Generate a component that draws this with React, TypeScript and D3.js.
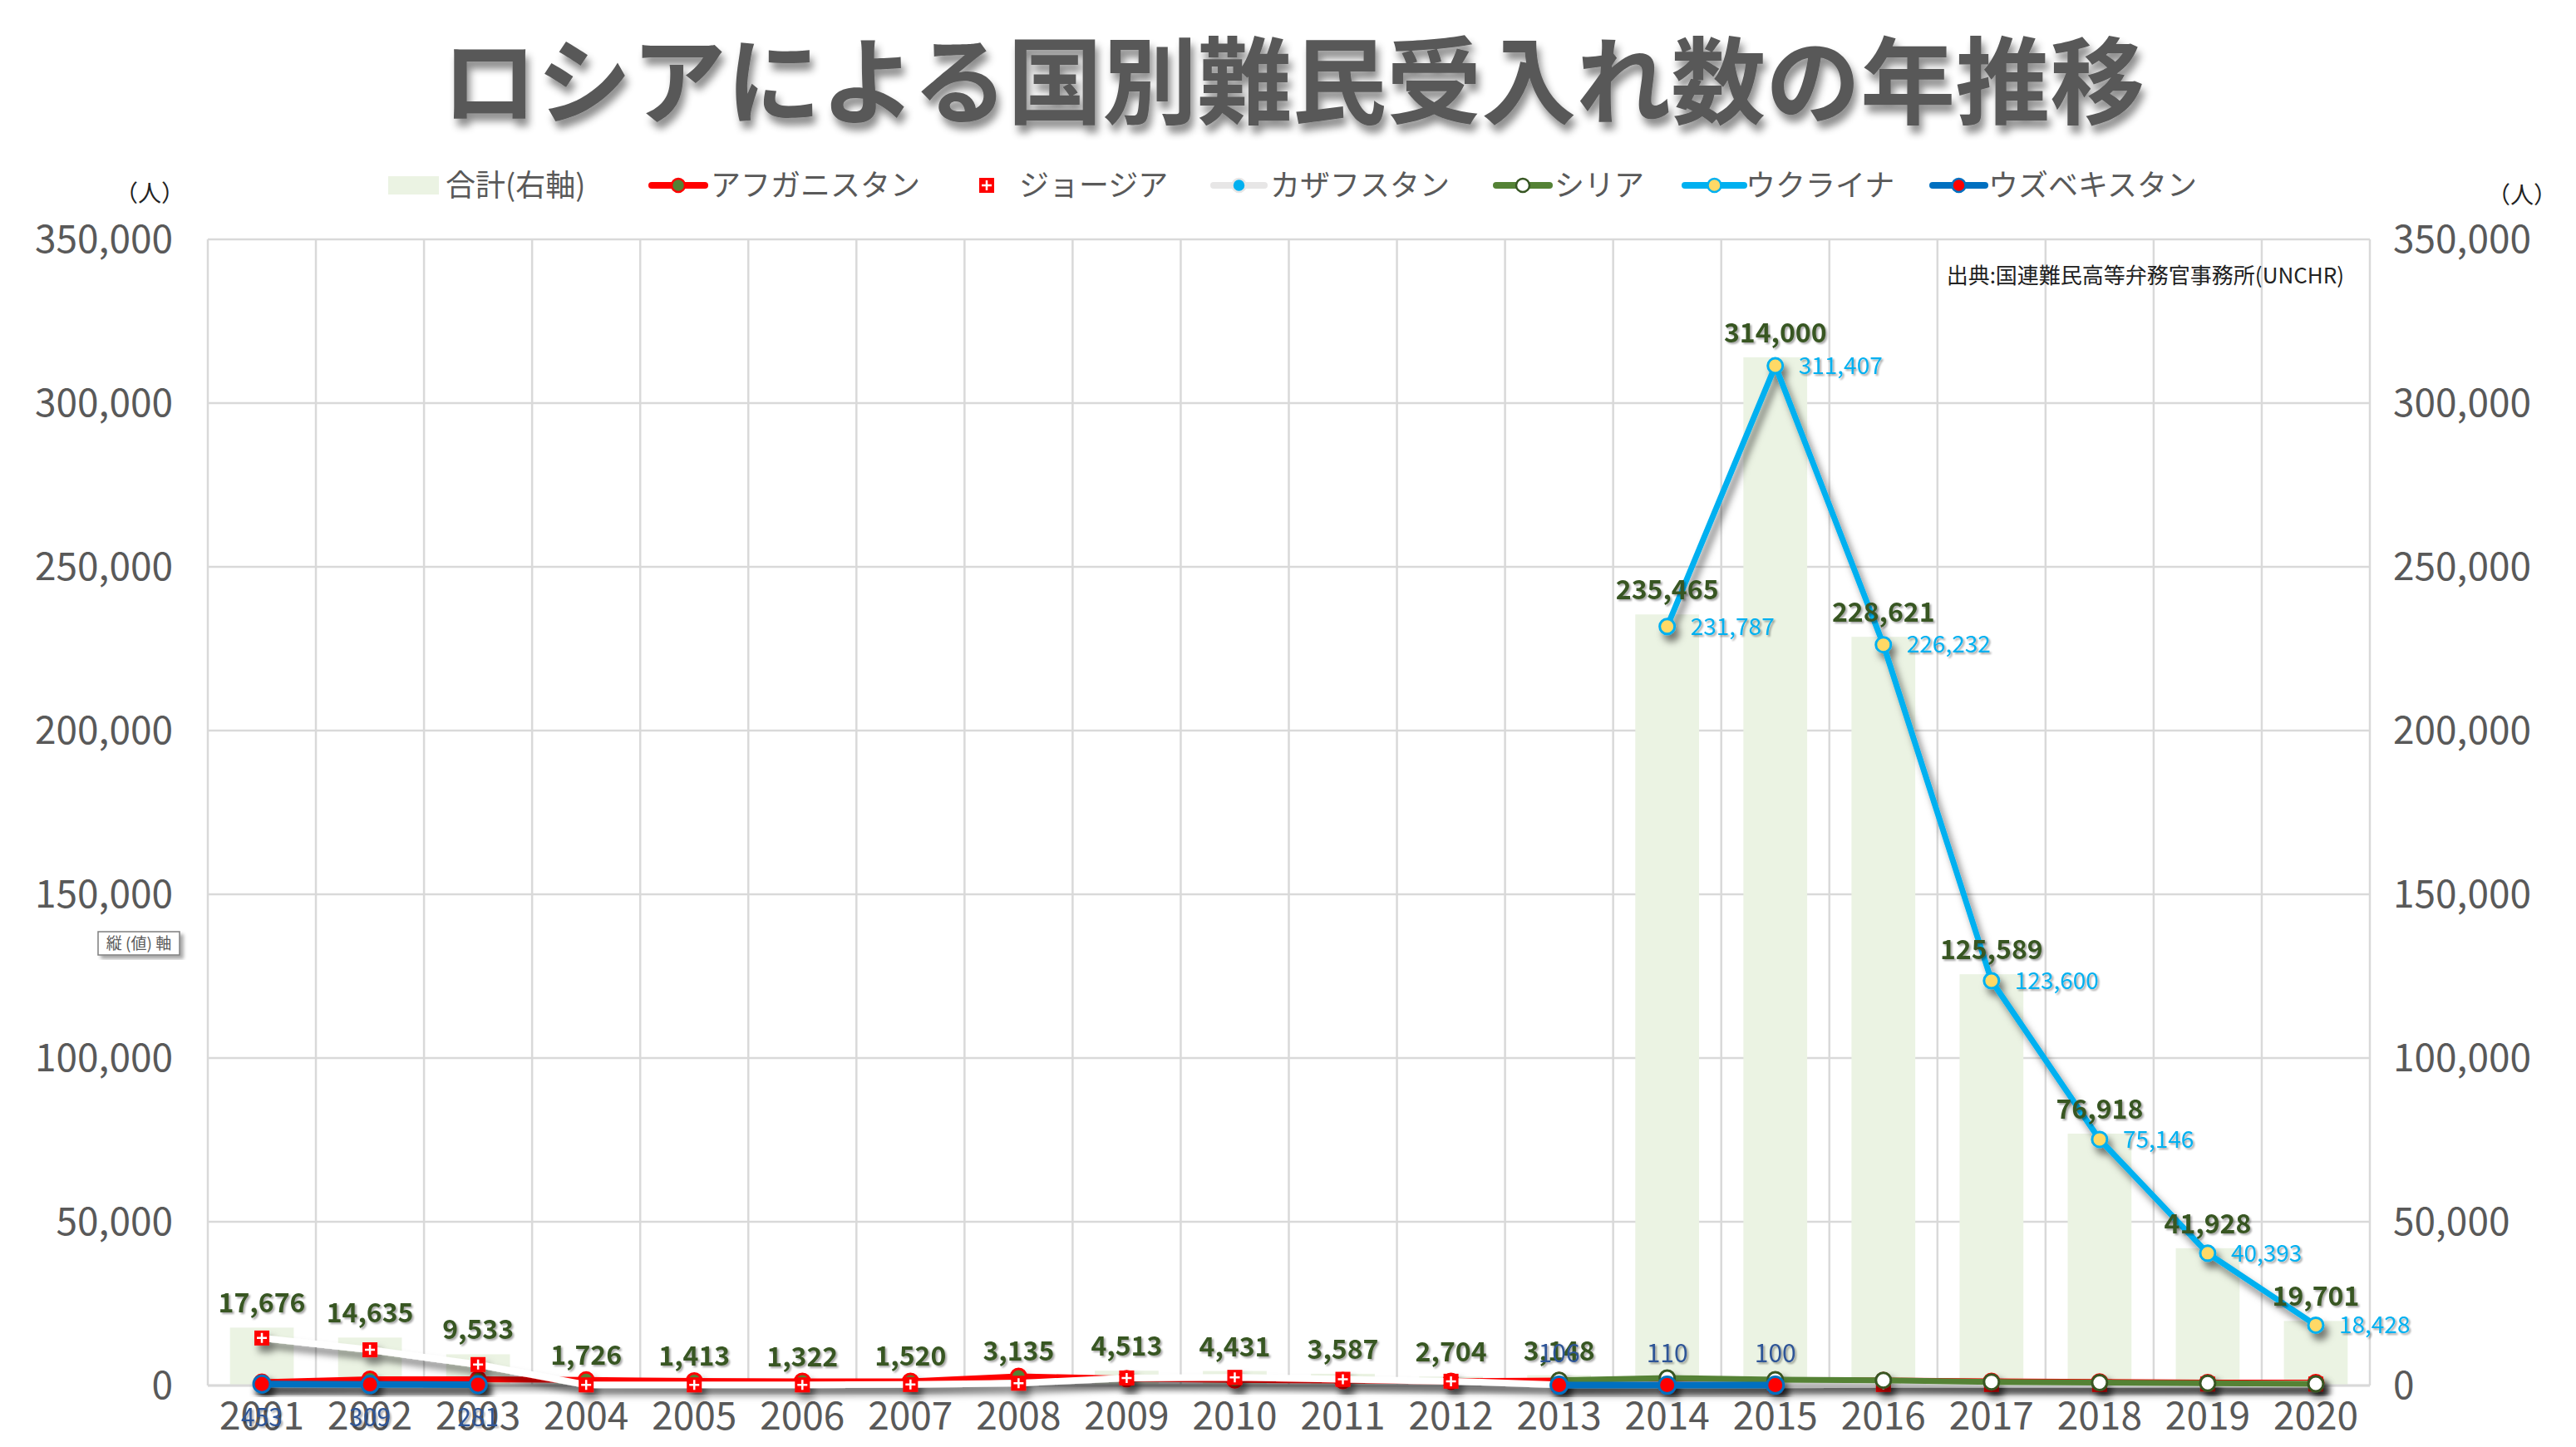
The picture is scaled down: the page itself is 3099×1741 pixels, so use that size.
import * as d3 from "d3";
import { useEffect, useRef } from "react";

// 年（横軸）
const years = [
  "2001", "2002", "2003", "2004", "2005", "2006", "2007", "2008", "2009", "2010",
  "2011", "2012", "2013", "2014", "2015", "2016", "2017", "2018", "2019", "2020",
];

// 合計（右軸・棒）
const total = [
  17676, 14635, 9533, 1726, 1413, 1322, 1520, 3135, 4513, 4431,
  3587, 2704, 3148, 235465, 314000, 228621, 125589, 76918, 41928, 19701,
];

// 国別（画像から読み取った推定値）
const afghanistan = [
  1000, 1900, 1900, 1700, 1400, 1300, 1300, 2800, 2100, 1700,
  1500, 1300, 1500, 1800, 1600, 1500, 1300, 1100, 900, 900,
];
const georgia = [
  14500, 10900, 6400, 200, 200, 200, 300, 700, 2300, 2500,
  1900, 1300, 200, 200, 200, 300, 300, 300, 450, 450,
];
const kazakhstan: (number | null)[] = [
  380, 260, 230, null, null, null, null, null, null, null,
  null, null, null, null, null, null, null, null, null, null,
];
const syria: (number | null)[] = [
  null, null, null, null, null, null, null, null, null, null,
  null, null, 1600, 2300, 1800, 1600, 1100, 900, 700, 500,
];
const ukraine: (number | null)[] = [
  null, null, null, null, null, null, null, null, null, null,
  null, null, null, 231787, 311407, 226232, 123600, 75146, 40393, 18428,
];
const uzbekistan: (number | null)[] = [
  453, 309, 281, null, null, null, null, null, null, null,
  null, null, 106, 110, 100, null, null, null, null, null,
];
// ウズベキスタンのラベルを下に置く年
const uzbekLabelBelow = ["2001", "2002", "2003"];

const yTicks = [0, 50000, 100000, 150000, 200000, 250000, 300000, 350000];

const legendNames = ["合計(右軸)", "アフガニスタン", "ジョージア", "カザフスタン", "シリア", "ウクライナ", "ウズベキスタン"];

const FONT = "'Noto Sans CJK JP', 'Noto Sans', sans-serif";

export default function App() {
  const ref = useRef<SVGSVGElement | null>(null);

  useEffect(() => {
    if (!ref.current) return;
    const svg = d3.select(ref.current);
    svg.selectAll("*").remove();

    const W = 3099;
    const H = 1741;
    const left = 250;
    const right = 2851;
    const top = 288;
    const bottom = 1667;

    svg.attr("width", W).attr("height", H).attr("viewBox", `0 0 ${W} ${H}`);

    const defs = svg.append("defs");
    const mkShadow = (id: string, dx: number, dy: number, sd: number, op: number) =>
      defs
        .append("filter")
        .attr("id", id)
        .attr("x", "-20%")
        .attr("y", "-20%")
        .attr("width", "140%")
        .attr("height", "140%")
        .append("feDropShadow")
        .attr("dx", dx)
        .attr("dy", dy)
        .attr("stdDeviation", sd)
        .attr("flood-color", "#000")
        .attr("flood-opacity", op);
    mkShadow("lineShadow", 5, 8, 4, 0.5);
    mkShadow("textShadow", 2, 2, 1.2, 0.35);
    mkShadow("titleShadow", 4, 9, 5, 0.45);
    mkShadow("boxShadow", 4, 4, 2, 0.35);

    svg.append("rect").attr("width", W).attr("height", H).attr("fill", "#fff");

    const x = d3.scaleBand<string>().domain(years).range([left, right]).padding(0);
    const xBar = d3
      .scaleBand<string>()
      .domain(years)
      .range([left, right])
      .paddingInner(0.41)
      .paddingOuter(0.205);
    const y = d3.scaleLinear().domain([0, 350000]).range([bottom, top]);
    const cx = (d: string) => (x(d) ?? 0) + x.bandwidth() / 2;
    const fmt = d3.format(",");

    // タイトル
    svg
      .append("text")
      .attr("x", 1556)
      .attr("y", 140)
      .attr("text-anchor", "middle")
      .attr("font-family", FONT)
      .attr("font-weight", 700)
      .attr("font-size", 114)
      .attr("fill", "#595959")
      .attr("filter", "url(#titleShadow)")
      .text("ロシアによる国別難民受入れ数の年推移");

    // グリッド
    const grid = svg.append("g").attr("stroke", "#d9d9d9").attr("stroke-width", 2.5);
    grid
      .selectAll("line.h")
      .data(yTicks)
      .join("line")
      .attr("class", "h")
      .attr("x1", left)
      .attr("x2", right)
      .attr("y1", (d) => y(d))
      .attr("y2", (d) => y(d));
    grid
      .selectAll("line.v")
      .data([...years.map((d) => x(d) ?? 0), right])
      .join("line")
      .attr("class", "v")
      .attr("x1", (d) => d)
      .attr("x2", (d) => d)
      .attr("y1", top)
      .attr("y2", bottom);

    // 合計の棒
    svg
      .append("g")
      .selectAll("rect")
      .data(years)
      .join("rect")
      .attr("x", (d) => xBar(d) ?? 0)
      .attr("width", xBar.bandwidth())
      .attr("y", (_d, i) => y(total[i]))
      .attr("height", (_d, i) => bottom - y(total[i]))
      .attr("fill", "#ebf3e3");

    svg
      .append("line")
      .attr("x1", left)
      .attr("x2", right)
      .attr("y1", bottom)
      .attr("y2", bottom)
      .attr("stroke", "#d9d9d9")
      .attr("stroke-width", 3);

    // 軸ラベル
    const axisText = svg
      .append("g")
      .attr("font-family", FONT)
      .attr("font-size", 46)
      .attr("fill", "#595959");
    axisText
      .selectAll("text.l")
      .data(yTicks)
      .join("text")
      .attr("class", "l")
      .attr("x", 208)
      .attr("y", (d) => y(d))
      .attr("dy", "0.35em")
      .attr("text-anchor", "end")
      .text((d) => fmt(d));
    axisText
      .selectAll("text.r")
      .data(yTicks)
      .join("text")
      .attr("class", "r")
      .attr("x", 2879)
      .attr("y", (d) => y(d))
      .attr("dy", "0.35em")
      .attr("text-anchor", "start")
      .text((d) => fmt(d));
    axisText
      .selectAll("text.x")
      .data(years)
      .join("text")
      .attr("class", "x")
      .attr("x", (d) => cx(d))
      .attr("y", 1704)
      .attr("dy", "0.35em")
      .attr("text-anchor", "middle")
      .text((d) => d);

    svg
      .append("text")
      .attr("x", 180)
      .attr("y", 233)
      .attr("dy", "0.35em")
      .attr("text-anchor", "middle")
      .attr("font-family", FONT)
      .attr("font-size", 28)
      .attr("fill", "#222")
      .text("（人）");
    svg
      .append("text")
      .attr("x", 3034)
      .attr("y", 235)
      .attr("dy", "0.35em")
      .attr("text-anchor", "middle")
      .attr("font-family", FONT)
      .attr("font-size", 28)
      .attr("fill", "#222")
      .text("（人）");

    svg
      .append("text")
      .attr("x", 2820)
      .attr("y", 332)
      .attr("dy", "0.35em")
      .attr("text-anchor", "end")
      .attr("font-family", FONT)
      .attr("font-size", 26)
      .attr("fill", "#222")
      .text("出典:国連難民高等弁務官事務所(UNCHR)");

    // 縦(値)軸 の小さな枠
    const box = svg.append("g");
    box
      .append("rect")
      .attr("x", 118)
      .attr("y", 1121)
      .attr("width", 98)
      .attr("height", 28)
      .attr("fill", "#fff")
      .attr("stroke", "#7f7f7f")
      .attr("stroke-width", 1.5)
      .attr("filter", "url(#boxShadow)");
    box
      .append("text")
      .attr("x", 167)
      .attr("y", 1135)
      .attr("dy", "0.35em")
      .attr("text-anchor", "middle")
      .attr("font-family", FONT)
      .attr("font-size", 19)
      .attr("fill", "#595959")
      .text("縦 (値) 軸");

    // 系列
    type Pt = { year: string; v: number };
    const toPts = (vals: (number | null)[]) =>
      years.map((year, i) => ({ year, v: vals[i] })) as { year: string; v: number | null }[];
    const line = d3
      .line<{ year: string; v: number | null }>()
      .defined((d) => d.v !== null)
      .x((d) => cx(d.year))
      .y((d) => y(d.v as number));

    const drawCircleSeries = (
      vals: (number | null)[],
      color: string,
      width: number,
      fill: string,
      stroke: string,
      r: number
    ) => {
      const g = svg.append("g").attr("filter", "url(#lineShadow)");
      g.append("path")
        .datum(toPts(vals))
        .attr("d", line)
        .attr("fill", "none")
        .attr("stroke", color)
        .attr("stroke-width", width)
        .attr("stroke-linejoin", "round");
      g.selectAll("circle")
        .data(toPts(vals).filter((d) => d.v !== null) as Pt[])
        .join("circle")
        .attr("cx", (d) => cx(d.year))
        .attr("cy", (d) => y(d.v))
        .attr("r", r)
        .attr("fill", fill)
        .attr("stroke", stroke)
        .attr("stroke-width", 3);
    };

    const drawCross = (g: d3.Selection<SVGGElement, unknown, null, undefined>, px: number, py: number) => {
      g.append("rect")
        .attr("x", px - 9)
        .attr("y", py - 9)
        .attr("width", 18)
        .attr("height", 18)
        .attr("fill", "#ff0000");
      g.append("path")
        .attr("d", `M${px - 6},${py}H${px + 6}M${px},${py - 6}V${py + 6}`)
        .attr("stroke", "#fff")
        .attr("stroke-width", 2.5);
    };

    drawCircleSeries(afghanistan, "#ff0000", 7, "#548235", "#ff0000", 9);

    // ジョージア：白線＋赤四角
    const gGeo = svg.append("g").attr("filter", "url(#lineShadow)");
    gGeo
      .append("path")
      .datum(toPts(georgia))
      .attr("d", line)
      .attr("fill", "none")
      .attr("stroke", "#ffffff")
      .attr("stroke-width", 8);
    years.forEach((yr, i) => drawCross(gGeo, cx(yr), y(georgia[i])));

    drawCircleSeries(kazakhstan, "#e7e6e6", 7, "#00b0f0", "#e7e6e6", 9);
    drawCircleSeries(syria, "#548235", 7, "#ffffff", "#375623", 9);
    drawCircleSeries(ukraine, "#00b0f0", 7, "#ffd966", "#00b0f0", 9);
    drawCircleSeries(uzbekistan, "#0070c0", 8, "#ff0000", "#0070c0", 10);

    // データラベル
    const labels = svg.append("g").attr("font-family", FONT).attr("filter", "url(#textShadow)");
    labels
      .selectAll("text.total")
      .data(years)
      .join("text")
      .attr("class", "total")
      .attr("x", (d) => cx(d))
      .attr("y", (_d, i) => y(total[i]) - 18)
      .attr("text-anchor", "middle")
      .attr("font-size", 32)
      .attr("font-weight", 700)
      .attr("fill", "#375623")
      .text((_d, i) => fmt(total[i]));

    labels
      .selectAll("text.ukr")
      .data(toPts(ukraine).filter((d) => d.v !== null) as Pt[])
      .join("text")
      .attr("class", "ukr")
      .attr("x", (d) => cx(d.year) + 28)
      .attr("y", (d) => y(d.v))
      .attr("dy", "0.35em")
      .attr("font-size", 28)
      .attr("fill", "#00b0f0")
      .text((d) => fmt(d.v));

    labels
      .selectAll("text.uzb")
      .data(toPts(uzbekistan).filter((d) => d.v !== null) as Pt[])
      .join("text")
      .attr("class", "uzb")
      .attr("x", (d) => cx(d.year))
      .attr("y", (d) => y(d.v) + (uzbekLabelBelow.includes(d.year) ? 40 : -38))
      .attr("dy", "0.35em")
      .attr("text-anchor", "middle")
      .attr("font-size", 30)
      .attr("fill", "#2f5597")
      .text((d) => fmt(d.v));

    // 凡例
    const lg = svg.append("g").attr("font-family", FONT).attr("font-size", 36).attr("fill", "#595959");
    const ly = 223;
    lg.append("rect").attr("x", 467).attr("y", ly - 11).attr("width", 61).attr("height", 22).attr("fill", "#ebf3e3");
    const legendLine = (x0: number, x1: number, color: string, fill: string, stroke: string) => {
      lg.append("line")
        .attr("x1", x0)
        .attr("x2", x1)
        .attr("y1", ly)
        .attr("y2", ly)
        .attr("stroke", color)
        .attr("stroke-width", 8)
        .attr("stroke-linecap", "round");
      lg.append("circle")
        .attr("cx", (x0 + x1) / 2)
        .attr("cy", ly)
        .attr("r", 8)
        .attr("fill", fill)
        .attr("stroke", stroke)
        .attr("stroke-width", 2.5);
    };
    legendLine(784, 848, "#ff0000", "#548235", "#ff0000");
    const lgGeo = lg.append("g");
    drawCross(lgGeo, 1187, ly);
    legendLine(1460, 1521, "#e7e6e6", "#00b0f0", "#e7e6e6");
    legendLine(1800, 1864, "#548235", "#ffffff", "#375623");
    legendLine(2027, 2098, "#00b0f0", "#ffd966", "#00b0f0");
    legendLine(2325, 2388, "#0070c0", "#ff0000", "#0070c0");
    const legendTextX = [536, 855, 1226, 1528, 1870, 2100, 2392];
    lg.selectAll("text")
      .data(legendNames)
      .join("text")
      .attr("x", (_d, i) => legendTextX[i])
      .attr("y", ly)
      .attr("dy", "0.36em")
      .text((d) => d);
  }, []);

  return <svg ref={ref} style={{ position: "absolute", left: 0, top: 0, display: "block" }} />;
}
